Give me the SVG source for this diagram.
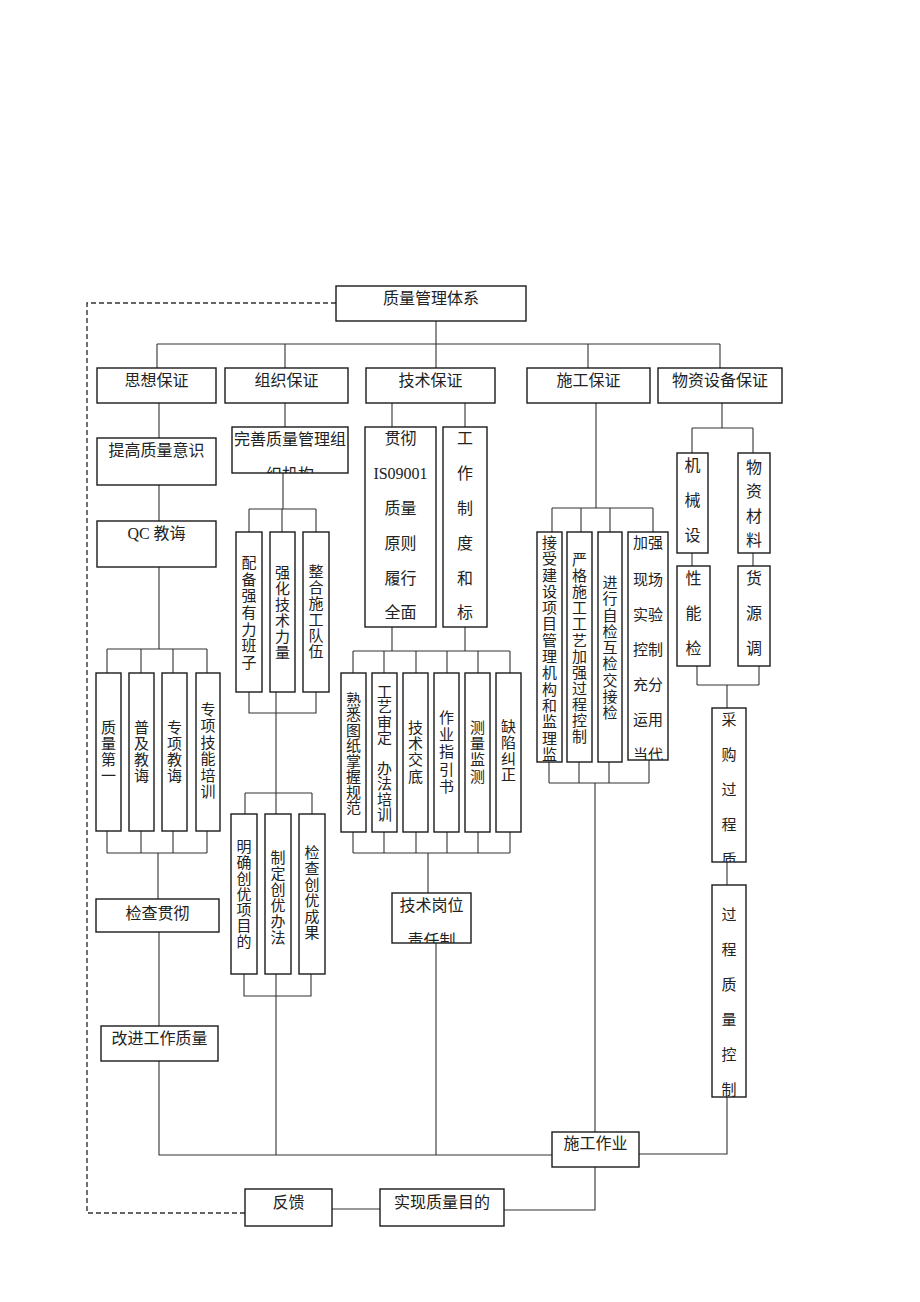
<svg xmlns="http://www.w3.org/2000/svg" width="920" height="1302" viewBox="0 0 920 1302">
<style>
.b{fill:#fff;stroke:#1a1a1a;stroke-width:1.4}
.c{fill:none;stroke:#333;stroke-width:1.1}
.d{fill:none;stroke:#333;stroke-width:1.4;stroke-dasharray:5,3}
.t{font-family:"Liberation Serif","Noto Sans CJK SC",serif;font-size:16px;fill:#222;text-anchor:middle;dominant-baseline:central}
.v{font-family:"Liberation Serif","Noto Sans CJK SC",serif;font-size:15px;fill:#222;text-anchor:middle;dominant-baseline:central}
</style>
<defs>
<clipPath id="k1"><rect x="232" y="427" width="116" height="46"/></clipPath>
<clipPath id="k2"><rect x="392" y="893" width="79" height="50"/></clipPath>
<clipPath id="k3"><rect x="537" y="532" width="25" height="230"/></clipPath>
<clipPath id="k4"><rect x="628" y="532" width="40" height="228"/></clipPath>
<clipPath id="k5"><rect x="712" y="708" width="34" height="154"/></clipPath>
<clipPath id="k6"><rect x="712" y="885" width="34" height="212"/></clipPath>
</defs>
<rect width="920" height="1302" fill="#fff"/>
<g id="connectors">
<path class="d" d="M336,303 H87 V1213 H245"/>
<path class="c" d="M436,321 V368 M157,344 H720 M157,344 V368 M285,344 V368 M588,344 V368 M720,344 V368"/>
<path class="c" d="M159,403 V438 M159,485 V521 M159,567 V649 M107,649 H207 M107,649 V673 M141,649 V673 M173,649 V673 M207,649 V673"/>
<path class="c" d="M107,831 V853 M141,831 V853 M173,831 V853 M207,831 V853 M107,853 H207 M158,853 V899 M159,932 V1026 M159,1061 V1155 H552"/>
<path class="c" d="M285,403 V427 M283,473 V509 M249,509 H316 M249,509 V532 M282,509 V532 M316,509 V532"/>
<path class="c" d="M249,692 V713 H316 V692 M276,692 V793 M245,793 H312 M245,793 V814 M276,793 V814 M312,793 V814"/>
<path class="c" d="M244,974 V996 H311 V974 M276,974 V1155"/>
<path class="c" d="M392,403 V427 M465,403 V427 M392,627 V651 M465,627 V651 M353,651 H510 M353,651 V673 M384,651 V673 M416,651 V673 M447,651 V673 M478,651 V673 M510,651 V673"/>
<path class="c" d="M353,832 V853 M384,832 V853 M416,832 V853 M447,832 V853 M478,832 V853 M510,832 V853 M353,853 H510 M428,853 V893 M436,943 V1155"/>
<path class="c" d="M596,403 V508 M552,508 H653 M552,508 V532 M581,508 V532 M610,508 V532 M653,508 V532"/>
<path class="c" d="M549,762 V783 M579,762 V783 M609,762 V783 M649,760 V783 M549,783 H649 M595,783 V1132"/>
<path class="c" d="M595,1167 V1210 H504 M639,1154 H727 V1097 M332,1209 H380"/>
<path class="c" d="M722,403 V428 M692,428 H753 M692,428 V453 M753,428 V453 M692,553 V566 M753,553 V566 M697,666 V685 M759,666 V685 M697,685 H759 M727,685 V708 M727,862 V885"/>
</g>
<g id="n-top"><rect class="b" x="336" y="286" width="190" height="35"/><text class="t" x="431" y="298">质量管理体系</text></g>
<g id="n-sx"><rect class="b" x="97" y="368" width="119" height="35"/><text class="t" x="156.5" y="380">思想保证</text></g>
<g id="n-zz"><rect class="b" x="225" y="368" width="123" height="35"/><text class="t" x="286.5" y="380">组织保证</text></g>
<g id="n-js"><rect class="b" x="366" y="368" width="129" height="35"/><text class="t" x="430.5" y="380">技术保证</text></g>
<g id="n-sg"><rect class="b" x="527" y="368" width="123" height="35"/><text class="t" x="588.5" y="380">施工保证</text></g>
<g id="n-wz"><rect class="b" x="658" y="368" width="124" height="35"/><text class="t" x="720" y="380">物资设备保证</text></g>
<g id="n-tg"><rect class="b" x="97" y="438" width="119" height="47"/><text class="t" x="156.5" y="450">提高质量意识</text></g>
<g id="n-qc"><rect class="b" x="97" y="521" width="119" height="46"/><text class="t" x="156.5" y="533">QC 教诲</text></g>
<g id="n-s1"><rect class="b" x="96" y="673" width="25" height="158"/><text class="v"><tspan x="108.5" y="728">质</tspan><tspan x="108.5" y="744">量</tspan><tspan x="108.5" y="760">第</tspan><tspan x="108.5" y="776">一</tspan></text></g>
<g id="n-s2"><rect class="b" x="129" y="673" width="25" height="158"/><text class="v"><tspan x="141.5" y="728">普</tspan><tspan x="141.5" y="744">及</tspan><tspan x="141.5" y="760">教</tspan><tspan x="141.5" y="776">诲</tspan></text></g>
<g id="n-s3"><rect class="b" x="162" y="673" width="25" height="158"/><text class="v"><tspan x="174.5" y="728">专</tspan><tspan x="174.5" y="744">项</tspan><tspan x="174.5" y="760">教</tspan><tspan x="174.5" y="776">诲</tspan></text></g>
<g id="n-s4"><rect class="b" x="196" y="673" width="24" height="158"/><text class="v"><tspan x="208" y="710">专</tspan><tspan x="208" y="726">项</tspan><tspan x="208" y="743">技</tspan><tspan x="208" y="759">能</tspan><tspan x="208" y="776">培</tspan><tspan x="208" y="792">训</tspan></text></g>
<g id="n-jc"><rect class="b" x="96" y="899" width="123" height="33"/><text class="t" x="157.5" y="913">检查贯彻</text></g>
<g id="n-gj"><rect class="b" x="101" y="1026" width="117" height="35"/><text class="t" x="159.5" y="1038">改进工作质量</text></g>
<g id="n-ws"><rect class="b" x="232" y="427" width="116" height="46"/><g clip-path="url(#k1)"><text class="t" x="290" y="439">完善质量管理组</text><text class="t" x="290" y="474">织机构</text></g></g>
<g id="n-z1"><rect class="b" x="236" y="532" width="26" height="160"/><text class="v"><tspan x="249" y="563">配</tspan><tspan x="249" y="580">备</tspan><tspan x="249" y="596">强</tspan><tspan x="249" y="613">有</tspan><tspan x="249" y="630">力</tspan><tspan x="249" y="646">班</tspan><tspan x="249" y="663">子</tspan></text></g>
<g id="n-z2"><rect class="b" x="270" y="532" width="25" height="160"/><text class="v"><tspan x="282.5" y="573">强</tspan><tspan x="282.5" y="589">化</tspan><tspan x="282.5" y="605">技</tspan><tspan x="282.5" y="621">术</tspan><tspan x="282.5" y="637">力</tspan><tspan x="282.5" y="653">量</tspan></text></g>
<g id="n-z3"><rect class="b" x="303" y="532" width="26" height="160"/><text class="v"><tspan x="316" y="572">整</tspan><tspan x="316" y="588">合</tspan><tspan x="316" y="604">施</tspan><tspan x="316" y="620">工</tspan><tspan x="316" y="636">队</tspan><tspan x="316" y="652">伍</tspan></text></g>
<g id="n-c1"><rect class="b" x="231" y="814" width="26" height="160"/><text class="v"><tspan x="244" y="847">明</tspan><tspan x="244" y="863">确</tspan><tspan x="244" y="879">创</tspan><tspan x="244" y="895">优</tspan><tspan x="244" y="910">项</tspan><tspan x="244" y="926">目</tspan><tspan x="244" y="942">的</tspan></text></g>
<g id="n-c2"><rect class="b" x="265" y="814" width="26" height="160"/><text class="v"><tspan x="278" y="858">制</tspan><tspan x="278" y="874">定</tspan><tspan x="278" y="890">创</tspan><tspan x="278" y="906">优</tspan><tspan x="278" y="922">办</tspan><tspan x="278" y="938">法</tspan></text></g>
<g id="n-c3"><rect class="b" x="299" y="814" width="26" height="160"/><text class="v"><tspan x="312" y="853">检</tspan><tspan x="312" y="869">查</tspan><tspan x="312" y="885">创</tspan><tspan x="312" y="901">优</tspan><tspan x="312" y="917">成</tspan><tspan x="312" y="933">果</tspan></text></g>
<g id="n-iso"><rect class="b" x="365" y="427" width="71" height="200"/><text class="t" x="400.5" y="438">贯彻</text><text class="t" x="400.5" y="473">IS09001</text><text class="t" x="400.5" y="508">质量</text><text class="t" x="400.5" y="543">原则</text><text class="t" x="400.5" y="578">履行</text><text class="t" x="400.5" y="612">全面</text></g>
<g id="n-gz"><rect class="b" x="443" y="427" width="44" height="200"/><text class="t"><tspan x="465" y="438">工</tspan><tspan x="465" y="473">作</tspan><tspan x="465" y="508">制</tspan><tspan x="465" y="543">度</tspan><tspan x="465" y="578">和</tspan><tspan x="465" y="612">标</tspan></text></g>
<g id="n-j1"><rect class="b" x="341" y="673" width="25" height="159"/><text class="v"><tspan x="353.5" y="700">熟</tspan><tspan x="353.5" y="715">悉</tspan><tspan x="353.5" y="731">图</tspan><tspan x="353.5" y="746">纸</tspan><tspan x="353.5" y="762">掌</tspan><tspan x="353.5" y="777">握</tspan><tspan x="353.5" y="793">规</tspan><tspan x="353.5" y="808">范</tspan></text></g>
<g id="n-j2"><rect class="b" x="372" y="673" width="25" height="159"/><text class="v"><tspan x="384.5" y="692">工</tspan><tspan x="384.5" y="707">艺</tspan><tspan x="384.5" y="723">审</tspan><tspan x="384.5" y="738">定</tspan><tspan x="384.5" y="769">办</tspan><tspan x="384.5" y="784">法</tspan><tspan x="384.5" y="800">培</tspan><tspan x="384.5" y="815">训</tspan></text></g>
<g id="n-j3"><rect class="b" x="403" y="673" width="25" height="159"/><text class="v"><tspan x="415.5" y="728">技</tspan><tspan x="415.5" y="744">术</tspan><tspan x="415.5" y="760">交</tspan><tspan x="415.5" y="777">底</tspan></text></g>
<g id="n-j4"><rect class="b" x="434" y="673" width="25" height="159"/><text class="v"><tspan x="446.5" y="718">作</tspan><tspan x="446.5" y="735">业</tspan><tspan x="446.5" y="752">指</tspan><tspan x="446.5" y="770">引</tspan><tspan x="446.5" y="787">书</tspan></text></g>
<g id="n-j5"><rect class="b" x="465" y="673" width="25" height="159"/><text class="v"><tspan x="477.5" y="728">测</tspan><tspan x="477.5" y="744">量</tspan><tspan x="477.5" y="760">监</tspan><tspan x="477.5" y="777">测</tspan></text></g>
<g id="n-j6"><rect class="b" x="496" y="673" width="25" height="159"/><text class="v"><tspan x="508.5" y="727">缺</tspan><tspan x="508.5" y="743">陷</tspan><tspan x="508.5" y="759">纠</tspan><tspan x="508.5" y="775">正</tspan></text></g>
<g id="n-gw"><rect class="b" x="392" y="893" width="79" height="50"/><g clip-path="url(#k2)"><text class="t" x="431.5" y="905">技术岗位</text><text class="t" x="431.5" y="940">责任制</text></g></g>
<g id="n-g1"><rect class="b" x="537" y="532" width="25" height="230"/><text class="v" clip-path="url(#k3)"><tspan x="549.5" y="543">接</tspan><tspan x="549.5" y="559">受</tspan><tspan x="549.5" y="576">建</tspan><tspan x="549.5" y="592">设</tspan><tspan x="549.5" y="608">项</tspan><tspan x="549.5" y="624">目</tspan><tspan x="549.5" y="641">管</tspan><tspan x="549.5" y="657">理</tspan><tspan x="549.5" y="673">机</tspan><tspan x="549.5" y="690">构</tspan><tspan x="549.5" y="706">和</tspan><tspan x="549.5" y="722">监</tspan><tspan x="549.5" y="739">理</tspan><tspan x="549.5" y="755">监</tspan></text></g>
<g id="n-g2"><rect class="b" x="567" y="532" width="25" height="230"/><text class="v"><tspan x="579.5" y="560">严</tspan><tspan x="579.5" y="576">格</tspan><tspan x="579.5" y="592">施</tspan><tspan x="579.5" y="608">工</tspan><tspan x="579.5" y="624">工</tspan><tspan x="579.5" y="641">艺</tspan><tspan x="579.5" y="657">加</tspan><tspan x="579.5" y="673">强</tspan><tspan x="579.5" y="689">过</tspan><tspan x="579.5" y="705">程</tspan><tspan x="579.5" y="721">控</tspan><tspan x="579.5" y="737">制</tspan></text></g>
<g id="n-g3"><rect class="b" x="598" y="532" width="24" height="230"/><text class="v"><tspan x="610" y="583">进</tspan><tspan x="610" y="599">行</tspan><tspan x="610" y="616">自</tspan><tspan x="610" y="632">检</tspan><tspan x="610" y="648">互</tspan><tspan x="610" y="664">检</tspan><tspan x="610" y="681">交</tspan><tspan x="610" y="697">接</tspan><tspan x="610" y="713">检</tspan></text></g>
<g id="n-g4"><rect class="b" x="628" y="532" width="40" height="228"/><g clip-path="url(#k4)"><text class="v" x="648" y="543">加强</text><text class="v" x="648" y="580">现场</text><text class="v" x="648" y="615">实验</text><text class="v" x="648" y="650">控制</text><text class="v" x="648" y="685">充分</text><text class="v" x="648" y="720">运用</text><text class="v" x="648" y="755">当代</text></g></g>
<g id="n-jx"><rect class="b" x="677" y="453" width="31" height="100"/><text class="t"><tspan x="692.5" y="465">机</tspan><tspan x="692.5" y="500">械</tspan><tspan x="692.5" y="535">设</tspan></text></g>
<g id="n-wc"><rect class="b" x="738" y="453" width="32" height="100"/><text class="t"><tspan x="754" y="467">物</tspan><tspan x="754" y="491">资</tspan><tspan x="754" y="516">材</tspan><tspan x="754" y="540">料</tspan></text></g>
<g id="n-xn"><rect class="b" x="677" y="566" width="33" height="100"/><text class="t"><tspan x="693.5" y="578">性</tspan><tspan x="693.5" y="613">能</tspan><tspan x="693.5" y="648">检</tspan></text></g>
<g id="n-hy"><rect class="b" x="738" y="566" width="32" height="100"/><text class="t"><tspan x="754" y="578">货</tspan><tspan x="754" y="613">源</tspan><tspan x="754" y="648">调</tspan></text></g>
<g id="n-cg"><rect class="b" x="712" y="708" width="34" height="154"/><text class="v" clip-path="url(#k5)"><tspan x="729" y="720">采</tspan><tspan x="729" y="755">购</tspan><tspan x="729" y="790">过</tspan><tspan x="729" y="825">程</tspan><tspan x="729" y="860">质</tspan></text></g>
<g id="n-gc"><rect class="b" x="712" y="885" width="34" height="212"/><text class="v" clip-path="url(#k6)"><tspan x="729" y="915">过</tspan><tspan x="729" y="950">程</tspan><tspan x="729" y="985">质</tspan><tspan x="729" y="1020">量</tspan><tspan x="729" y="1055">控</tspan><tspan x="729" y="1090">制</tspan></text></g>
<g id="n-sgzy"><rect class="b" x="552" y="1132" width="87" height="35"/><text class="t" x="595.5" y="1143">施工作业</text></g>
<g id="n-fk"><rect class="b" x="245" y="1189" width="87" height="37"/><text class="t" x="288.5" y="1202">反馈</text></g>
<g id="n-sx2"><rect class="b" x="380" y="1189" width="124" height="37"/><text class="t" x="442" y="1202">实现质量目的</text></g>
</svg>
